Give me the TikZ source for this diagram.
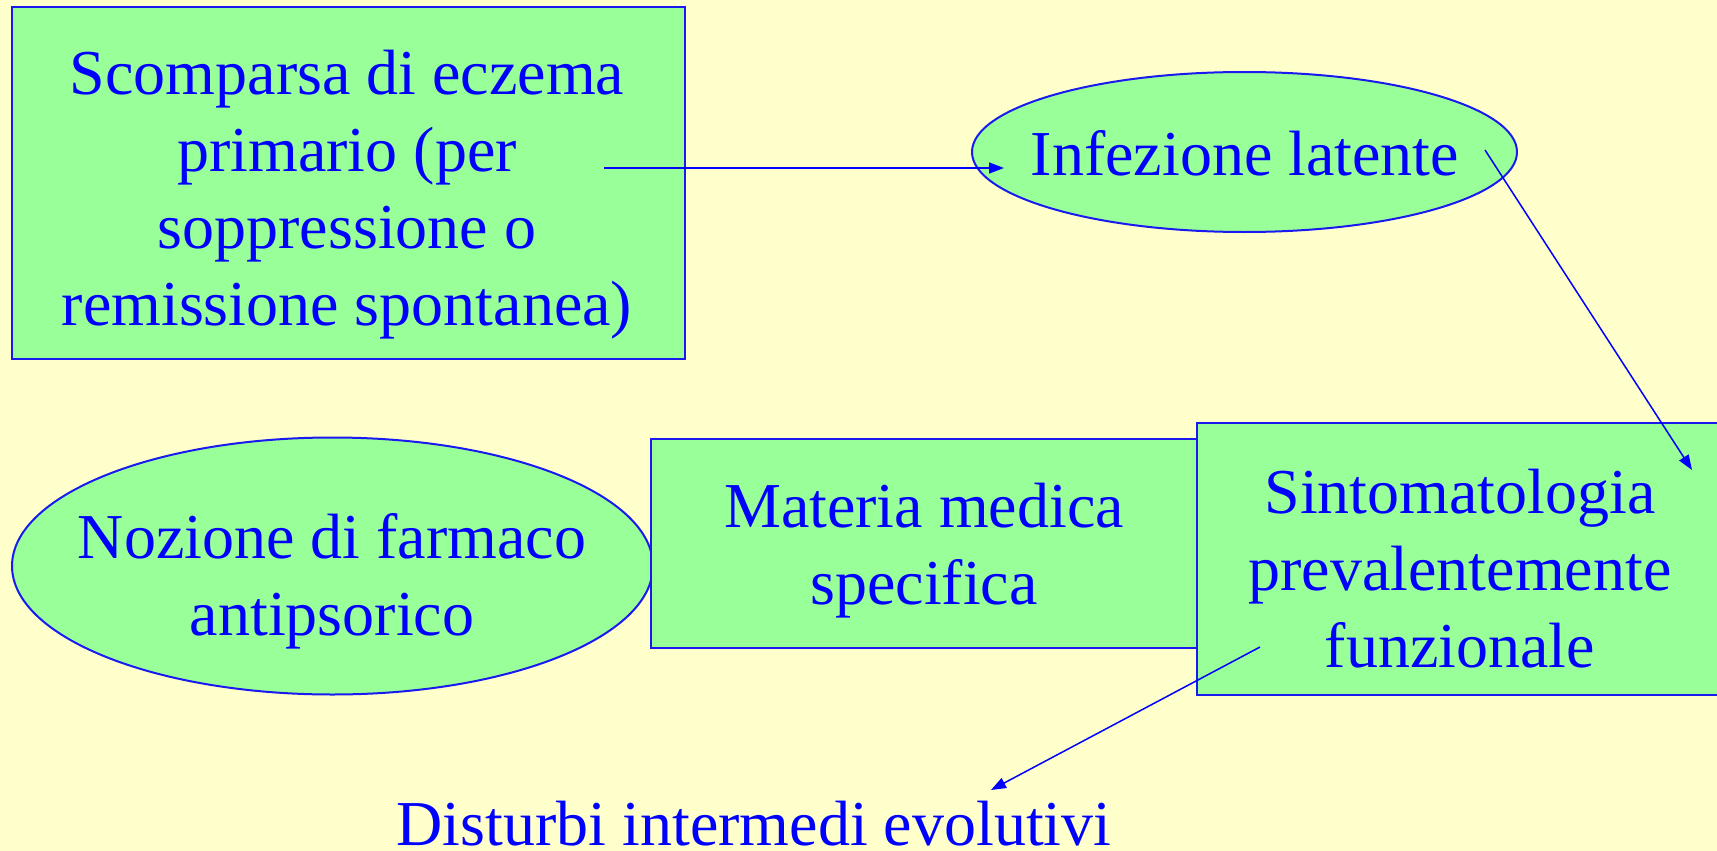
\documentclass[tikz,border=0pt]{standalone}
\usepackage{fontspec}
\setmainfont{Liberation Serif}
\usetikzlibrary{shapes.geometric,arrows.meta}
\definecolor{bgyellow}{HTML}{FFFFCC}
\definecolor{boxgreen}{HTML}{99FF99}
\definecolor{txtblue}{HTML}{0000FF}
\definecolor{edgeblue}{HTML}{1A1AF0}
\begin{document}
\begin{tikzpicture}[x=1pt,y=-1pt,
  shapebox/.style={draw=edgeblue, line width=2pt, fill=boxgreen, rectangle, inner sep=0pt},
  shapeell/.style={draw=edgeblue, line width=2pt, fill=boxgreen, ellipse, inner sep=0pt},
  txt/.style={text=txtblue, font=\fontsize{64}{77}\selectfont, align=center, inner sep=0pt},
  conn/.style={draw=txtblue, line width=1.5pt, -{Triangle[length=15pt,width=11pt]}}]
\useasboundingbox (0,0) rectangle (1717,851);
\fill[bgyellow] (0,0) rectangle (1717,851);
\begin{scope}
\clip (0,0) rectangle (1717,851);
% shapes
\node[shapebox, minimum width=673pt, minimum height=352pt] (scomparsa) at (348.5,183) {};
\node[shapeell, minimum width=545pt, minimum height=160pt] (infezione) at (1244.5,152) {};
\node[shapeell, minimum width=641pt, minimum height=257pt] (nozione) at (332.5,566) {};
\node[shapebox, minimum width=559pt, minimum height=209pt] (materia) at (930.5,543.5) {};
\node[shapebox, minimum width=526pt, minimum height=272pt] (sintom) at (1460,559) {};
% texts
\node[txt] (tscomparsa) at (347,194.5) {Scomparsa di eczema\\primario (per\\soppressione o\\remissione spontanea)};
\node[txt] (tinfezione) at (1245,153) {Infezione latente};
\node[txt] (tnozione) at (332,581.5) {Nozione di farmaco\\antipsorico};
\node[txt] (tmateria) at (924,551) {Materia medica\\specifica};
\node[txt] (tsintom) at (1460,569) {Sintomatologia\\prevalentemente\\funzionale};
\node[txt, anchor=base] (disturbi) at (754,845) {Disturbi intermedi evolutivi};
% connector end points
\coordinate (a1s) at (604,168);
\coordinate (a1e) at (1004,168);
\coordinate (a2s) at (1485,150);
\coordinate (a2e) at (1692,470);
\coordinate (a3s) at (1260,647);
\coordinate (a3e) at (991,790);
\draw[conn] (a1s) -- (a1e);
\draw[conn] (a2s) -- (a2e);
\draw[conn] (a3s) -- (a3e);
\end{scope}
\end{tikzpicture}
\end{document}
